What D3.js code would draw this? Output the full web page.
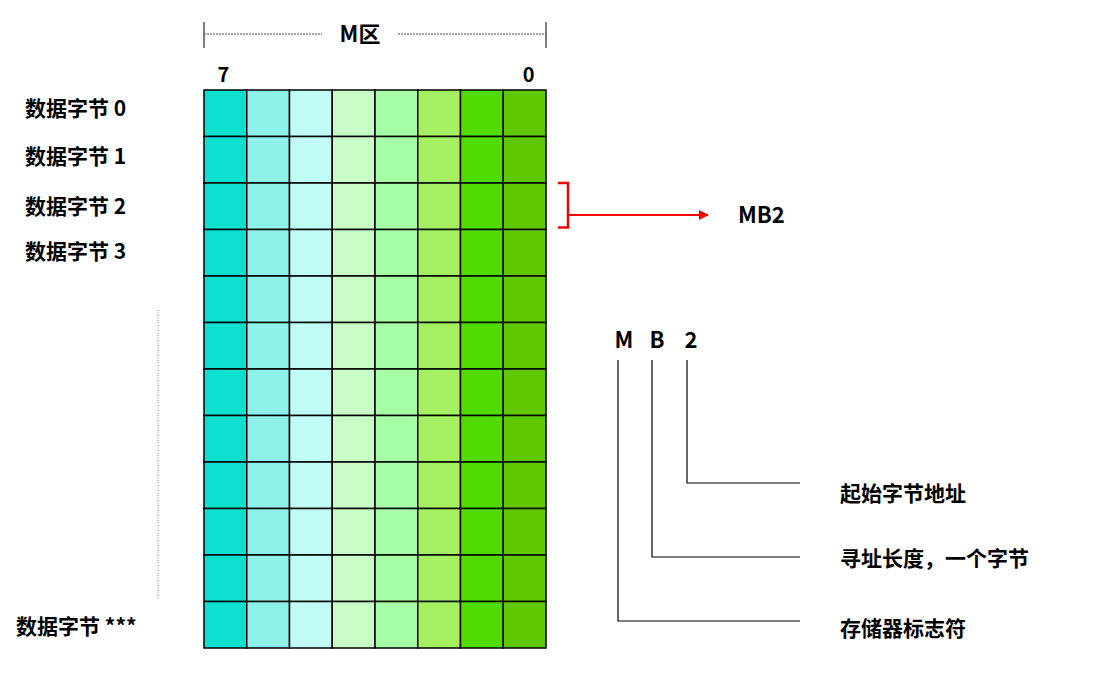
<!DOCTYPE html>
<html><head><meta charset="utf-8">
<script src="https://cdn.jsdelivr.net/npm/d3@7"></script>
<style>body{margin:0;background:#fff}text{font-family:"Noto Sans CJK SC","Liberation Sans",sans-serif;font-weight:bold;fill:#000}</style>
</head><body>
<script>
const bits = [7,6,5,4,3,2,1,0];
const bitColors = ["#0ee0d0","#8ef2ea","#c0fdf6","#c8fdc8","#a6fea6","#a4f060","#50dc00","#60c800"];
const rows = d3.range(12);
const rowLabels = [{row:0,text:"数据字节 0"},{row:1,text:"数据字节 1"},{row:2,text:"数据字节 2"},{row:3,text:"数据字节 3"},{row:11,text:"数据字节 ***"}];
const parts = ["M","B","2"];
const partLabels = ["存储器标志符","寻址长度，一个字节","起始字节地址"];

const W=1114,H=691;
const svg=d3.select("body").append("svg").attr("width",W).attr("height",H);
const x=d3.scaleBand().domain(bits).range([204,546]);
const y=d3.scaleBand().domain(rows).range([90,648]);

rows.forEach(r=>{
  svg.selectAll(null).data(bits).enter().append("rect")
    .attr("x",d=>x(d)).attr("y",y(r)).attr("width",x.bandwidth()).attr("height",y.bandwidth())
    .attr("fill",(d,i)=>bitColors[i]).attr("stroke","#000").attr("stroke-width",1.5);
});
// top bracket
svg.append("line").attr("x1",204).attr("x2",204).attr("y1",22).attr("y2",48).attr("stroke","#000");
svg.append("line").attr("x1",546).attr("x2",546).attr("y1",22).attr("y2",48).attr("stroke","#000");
svg.append("line").attr("x1",204).attr("x2",322).attr("y1",34).attr("y2",34).attr("stroke","#444").attr("stroke-dasharray","2,1");
svg.append("line").attr("x1",398).attr("x2",546).attr("y1",34).attr("y2",34).attr("stroke","#444").attr("stroke-dasharray","2,1");
svg.append("text").attr("x",360).attr("y",42).attr("text-anchor","middle").attr("font-size",22).text("M区");
svg.append("text").attr("x",x(7)+x.bandwidth()/2-2).attr("y",82).attr("text-anchor","middle").attr("font-size",20).text("7");
svg.append("text").attr("x",x(0)+x.bandwidth()/2+4).attr("y",82).attr("text-anchor","middle").attr("font-size",20).text("0");
// row labels
svg.selectAll(null).data(rowLabels).enter().append("text")
  .attr("x",d=>d.row===11?16:25).attr("y",d=>[110,158,208,253][d.row]||628)
  .attr("font-size",21).attr("dominant-baseline","middle").text(d=>d.text);
svg.append("line").attr("x1",158).attr("x2",158).attr("y1",310).attr("y2",600).attr("stroke","#888").attr("stroke-dasharray","1,1.5");
// red bracket & arrow
const yb=y(2);
svg.append("defs").append("marker").attr("id","ar").attr("viewBox","0 0 10 10").attr("refX",9).attr("refY",5)
  .attr("markerWidth",5).attr("markerHeight",5).attr("orient","auto").append("path").attr("d","M0,0L10,5L0,10z").attr("fill","#f00");
svg.append("path").attr("d",`M558,${yb}H568V${yb+y.bandwidth()-2}H558`).attr("fill","none").attr("stroke","#e00").attr("stroke-width",2.5);
svg.append("line").attr("x1",568).attr("x2",708).attr("y1",215).attr("y2",215).attr("stroke","#f00").attr("stroke-width",2).attr("marker-end","url(#ar)");
svg.append("text").attr("x",738).attr("y",223).attr("font-size",22).text("MB2");
// decomposition
const px=[624,657,691], ly=[621,557,483], ty=[630,560,495];
parts.forEach((p,i)=>{
  svg.append("text").attr("x",px[i]).attr("y",348).attr("text-anchor","middle").attr("font-size",22).text(p);
  const lx=[618,652,687][i];
  svg.append("path").attr("d",`M${lx},360V${ly[i]}H800`).attr("fill","none").attr("stroke","#000").attr("stroke-width",1.2);
  svg.append("text").attr("x",840).attr("y",ty[i]).attr("font-size",21).attr("dominant-baseline","middle").text(partLabels[i]);
});
</script></body></html>
